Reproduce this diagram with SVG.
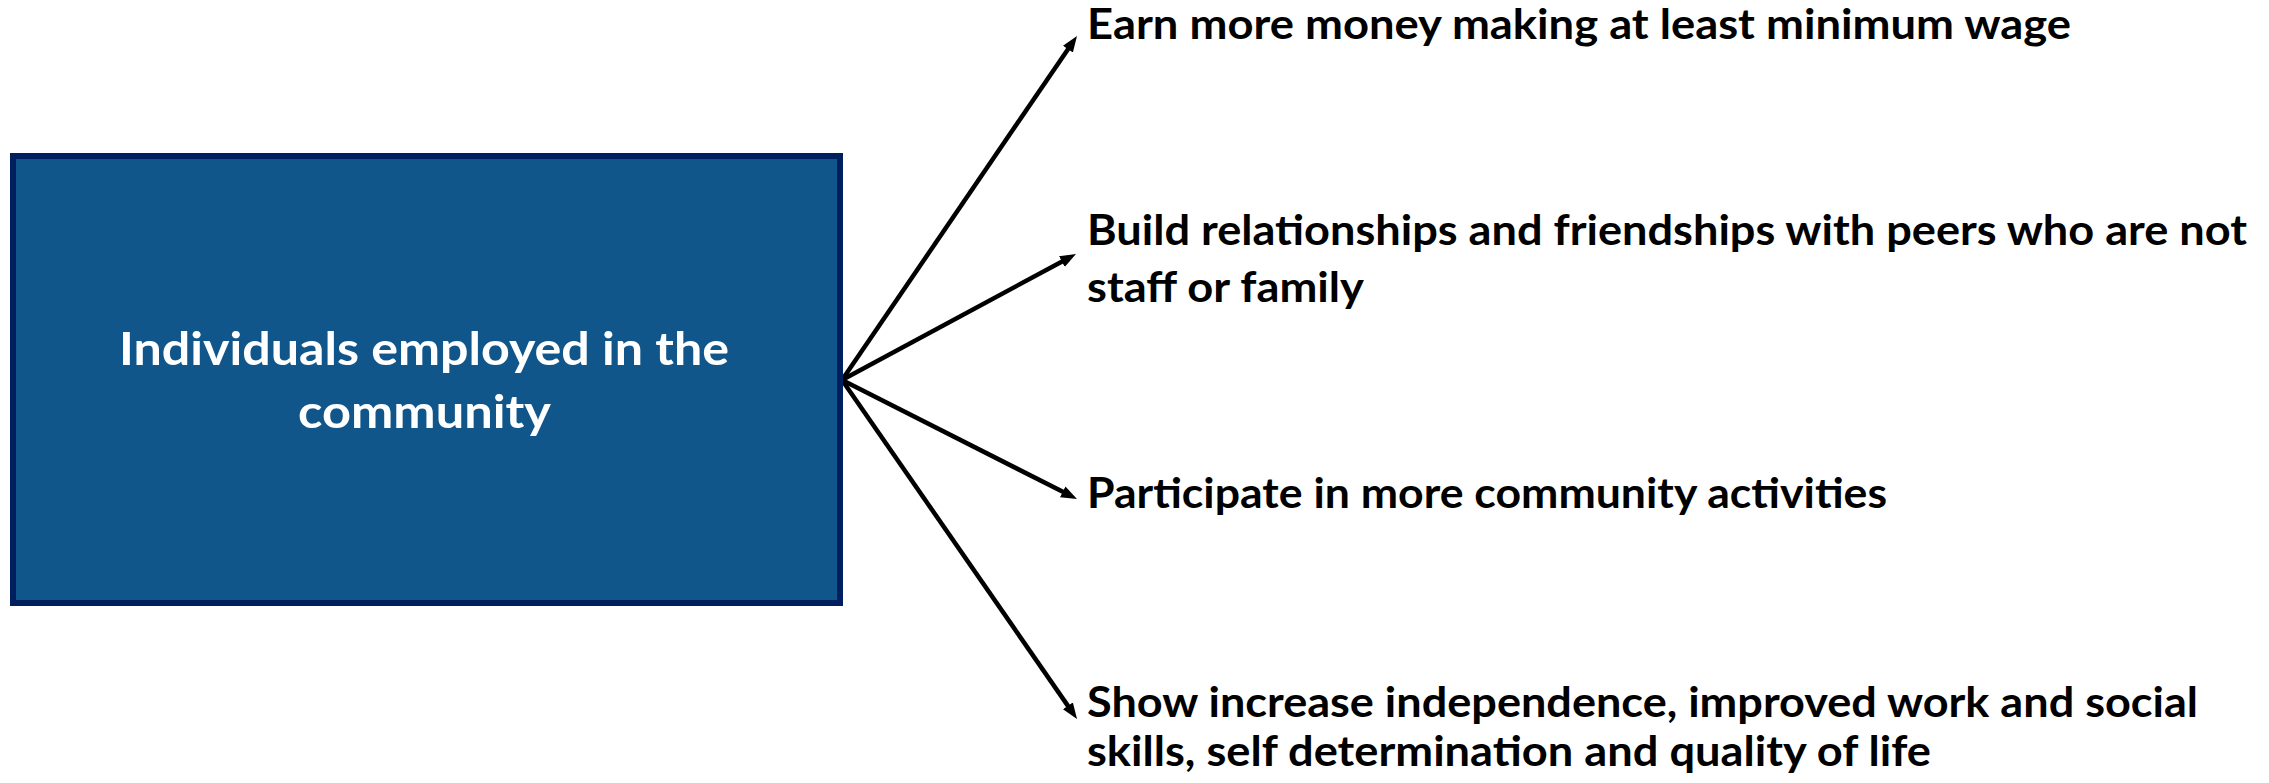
<svg xmlns="http://www.w3.org/2000/svg" width="2269" height="783" viewBox="0 0 2269 783">
<style>
.lbl{font-family:"Lato","Liberation Sans",sans-serif;font-weight:bold;font-size:42px;fill:#000000}
.ctr{font-family:"Lato","Liberation Sans",sans-serif;font-weight:bold;font-size:46px;fill:#ffffff}
.conn{stroke:#000000;stroke-width:4.5;fill:none}
</style>
<defs>
<marker id="arr" markerUnits="userSpaceOnUse" markerWidth="18" markerHeight="14" refX="4" refY="6" orient="auto">
<path d="M0,0 L16,6 L0,12 z" fill="#000000"/>
</marker>
</defs>
<rect width="2269" height="783" fill="#ffffff"/>
<g id="connectors">
<line class="conn" x1="842" y1="380" x2="1070.2" y2="45.9" marker-end="url(#arr)"/>
<line class="conn" x1="842" y1="380" x2="1065.4" y2="259.7" marker-end="url(#arr)"/>
<line class="conn" x1="842" y1="380" x2="1066.3" y2="493.6" marker-end="url(#arr)"/>
<line class="conn" x1="842" y1="380" x2="1070.2" y2="709.1" marker-end="url(#arr)"/>
</g>
<g id="source">
<rect x="13" y="156" width="827" height="447" fill="#11568A" stroke="#001F5F" stroke-width="6"/>
<text class="ctr" x="119" y="365" textLength="610" lengthAdjust="spacingAndGlyphs">Individuals employed in the</text>
<text class="ctr" x="298" y="428" textLength="253" lengthAdjust="spacingAndGlyphs">community</text>
</g>
<g id="outcome1">
<text class="lbl" x="1087" y="39" textLength="984" lengthAdjust="spacingAndGlyphs">Earn more money making at least minimum wage</text>
</g>
<g id="outcome2">
<text class="lbl" x="1087" y="245" textLength="1160" lengthAdjust="spacingAndGlyphs">Build relationships and friendships with peers who are not</text>
<text class="lbl" x="1087" y="302" textLength="277" lengthAdjust="spacingAndGlyphs">staff or family</text>
</g>
<g id="outcome3">
<text class="lbl" x="1087" y="508" textLength="800" lengthAdjust="spacingAndGlyphs">Participate in more community activities</text>
</g>
<g id="outcome4">
<text class="lbl" x="1087" y="717" textLength="1111" lengthAdjust="spacingAndGlyphs">Show increase independence, improved work and social</text>
<text class="lbl" x="1087" y="766" textLength="844" lengthAdjust="spacingAndGlyphs">skills, self determination and quality of life</text>
</g>
</svg>
